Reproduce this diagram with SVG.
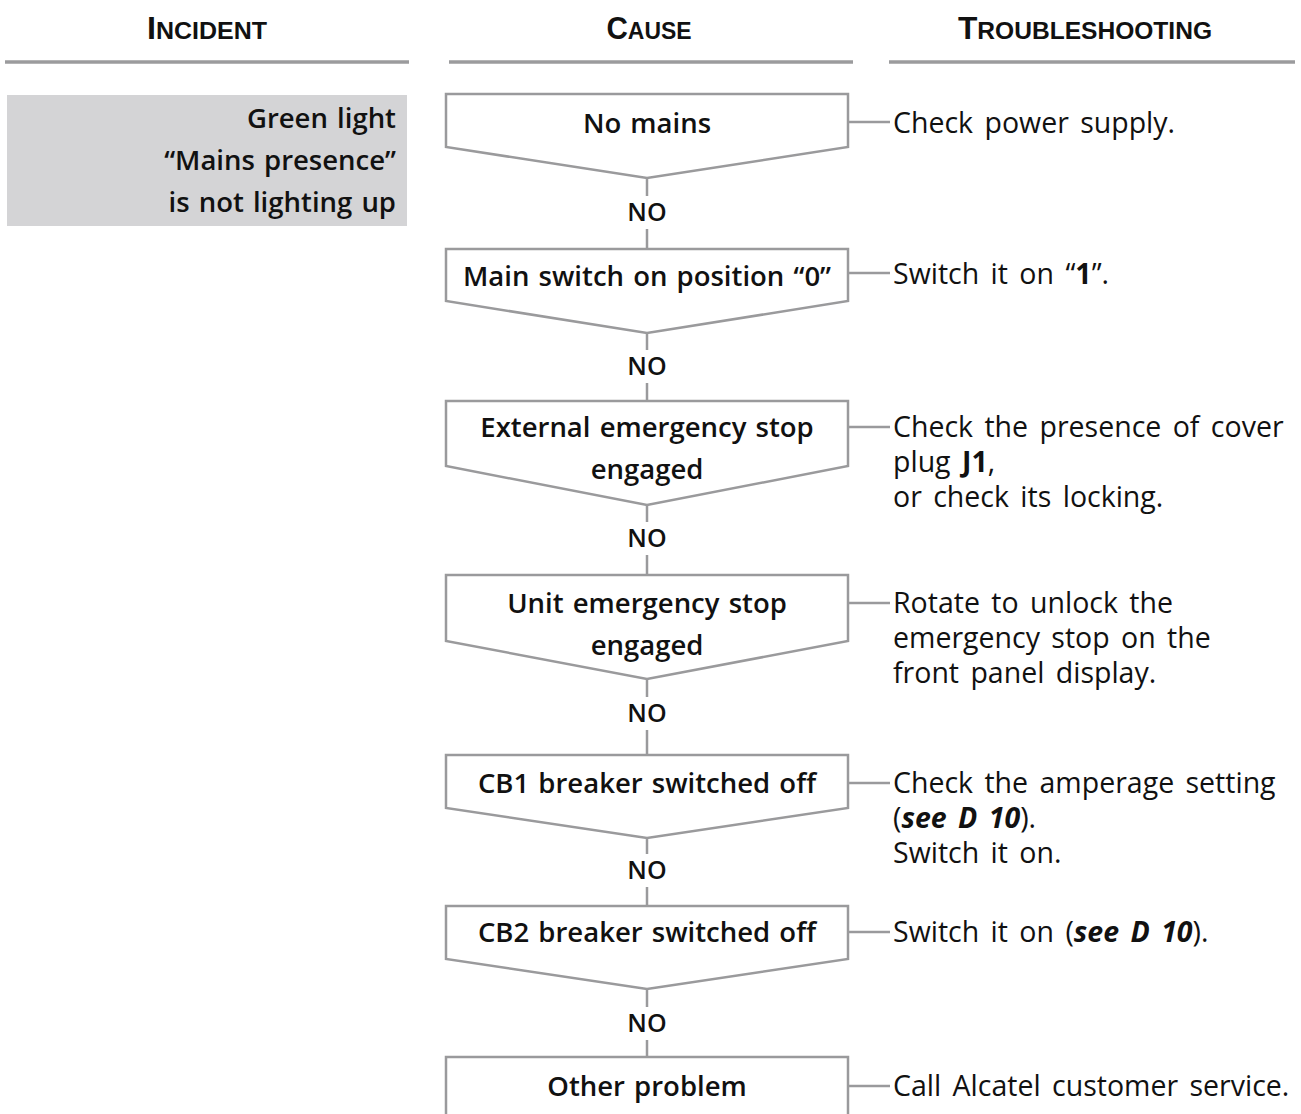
<svg xmlns="http://www.w3.org/2000/svg" width="1301" height="1114" viewBox="0 0 1301 1114">
<style>
.hdr{font-family:"Liberation Sans",Arial,sans-serif;font-weight:700;fill:#111;text-anchor:middle}
.big{font-size:31px}
.sm{font-size:24px}
.rule{stroke:#9b9b9d;stroke-width:3.5;fill:none}
.node{fill:#fff;stroke:#9a9a9c;stroke-width:2.5}
.nt{font-family:"Open Sans","Noto Sans",sans-serif;font-weight:600;font-size:27.5px;fill:#111;text-anchor:middle;word-spacing:2px}
.no{font-family:"Open Sans","Noto Sans",sans-serif;font-weight:600;font-size:25px;fill:#111;text-anchor:middle}
.rt{font-family:"Open Sans","Noto Sans",sans-serif;font-weight:400;font-size:28.5px;fill:#111;word-spacing:4px}
.b{font-weight:700}
.bi{font-weight:700;font-style:italic}
.con line{stroke:#9a9a9c;stroke-width:2.5}
.inc{font-family:"Open Sans","Noto Sans",sans-serif;font-weight:600;font-size:27.5px;fill:#111;text-anchor:end;word-spacing:2px}
</style>
<rect width="1301" height="1114" fill="#fff"/>
<g id="headers">
<text class="hdr" x="207" y="39" textLength="120" lengthAdjust="spacingAndGlyphs"><tspan class="big">I</tspan><tspan class="sm">NCIDENT</tspan></text>
<text class="hdr" x="649" y="39" textLength="85" lengthAdjust="spacingAndGlyphs"><tspan class="big">C</tspan><tspan class="sm">AUSE</tspan></text>
<text class="hdr" x="1085" y="39" textLength="254" lengthAdjust="spacingAndGlyphs"><tspan class="big">T</tspan><tspan class="sm">ROUBLESHOOTING</tspan></text>
<line class="rule" x1="5" y1="62" x2="409" y2="62"/>
<line class="rule" x1="449" y1="62" x2="853" y2="62"/>
<line class="rule" x1="889" y1="62" x2="1295" y2="62"/>
</g>
<g id="incident">
<rect x="7" y="95" width="400" height="131" fill="#d4d4d6"/>
<text class="inc" x="396" y="128">Green light</text>
<text class="inc" x="396" y="170">“Mains presence”</text>
<text class="inc" x="396" y="212">is not lighting up</text>
</g>
<g id="connectors" class="con">
<line x1="647" y1="178" x2="647" y2="196"/>
<line x1="647" y1="229" x2="647" y2="249"/>
<line x1="647" y1="333" x2="647" y2="350"/>
<line x1="647" y1="383" x2="647" y2="401"/>
<line x1="647" y1="505" x2="647" y2="522"/>
<line x1="647" y1="555" x2="647" y2="575"/>
<line x1="647" y1="679" x2="647" y2="697"/>
<line x1="647" y1="730" x2="647" y2="755"/>
<line x1="647" y1="838" x2="647" y2="854"/>
<line x1="647" y1="887" x2="647" y2="906"/>
<line x1="647" y1="989" x2="647" y2="1007"/>
<line x1="647" y1="1040" x2="647" y2="1057"/>
<line x1="848" y1="122" x2="890" y2="122"/>
<line x1="848" y1="273" x2="890" y2="273"/>
<line x1="848" y1="427" x2="890" y2="427"/>
<line x1="848" y1="603" x2="890" y2="603"/>
<line x1="848" y1="783" x2="890" y2="783"/>
<line x1="848" y1="932" x2="890" y2="932"/>
<line x1="848" y1="1086" x2="890" y2="1086"/>
</g>
<g id="labels">
<text class="no" x="647" y="221">NO</text>
<text class="no" x="647" y="375">NO</text>
<text class="no" x="647" y="547">NO</text>
<text class="no" x="647" y="722">NO</text>
<text class="no" x="647" y="879">NO</text>
<text class="no" x="647" y="1032">NO</text>
</g>
<g id="n1">
<polygon class="node" points="446,94 848,94 848,147 647,178 446,147"/>
<text class="nt" x="647" y="133">No mains</text>
</g>
<g id="n2">
<polygon class="node" points="446,249 848,249 848,301 647,333 446,301"/>
<text class="nt" x="647" y="286">Main switch on position “0”</text>
</g>
<g id="n3">
<polygon class="node" points="446,401 848,401 848,466 647,505 446,466"/>
<text class="nt" x="647" y="437">External emergency stop</text>
<text class="nt" x="647" y="479">engaged</text>
</g>
<g id="n4">
<polygon class="node" points="446,575 848,575 848,641 647,679 446,641"/>
<text class="nt" x="647" y="613">Unit emergency stop</text>
<text class="nt" x="647" y="655">engaged</text>
</g>
<g id="n5">
<polygon class="node" points="446,755 848,755 848,808 647,838 446,808"/>
<text class="nt" x="647" y="793">CB1 breaker switched off</text>
</g>
<g id="n6">
<polygon class="node" points="446,906 848,906 848,959 647,989 446,959"/>
<text class="nt" x="647" y="942">CB2 breaker switched off</text>
</g>
<g id="n7">
<path class="node" d="M446,1118 V1057 H848 V1118"/>
<text class="nt" x="647" y="1096">Other problem</text>
</g>
<g id="r1"><text class="rt" x="893" y="133">Check power supply.</text></g>
<g id="r2"><text class="rt" x="893" y="284">Switch it on “<tspan class="b">1</tspan>”.</text></g>
<g id="r3">
<text class="rt" x="893" y="437">Check the presence of cover</text>
<text class="rt" x="893" y="472">plug <tspan class="b">J1</tspan>,</text>
<text class="rt" x="893" y="507">or check its locking.</text>
</g>
<g id="r4">
<text class="rt" x="893" y="613">Rotate to unlock the</text>
<text class="rt" x="893" y="648">emergency stop on the</text>
<text class="rt" x="893" y="683">front panel display.</text>
</g>
<g id="r5">
<text class="rt" x="893" y="793">Check the amperage setting</text>
<text class="rt" x="893" y="828">(<tspan class="bi">see D 10</tspan>).</text>
<text class="rt" x="893" y="863">Switch it on.</text>
</g>
<g id="r6"><text class="rt" x="893" y="942">Switch it on (<tspan class="bi">see D 10</tspan>).</text></g>
<g id="r7"><text class="rt" x="893" y="1096">Call Alcatel customer service.</text></g>
</svg>
